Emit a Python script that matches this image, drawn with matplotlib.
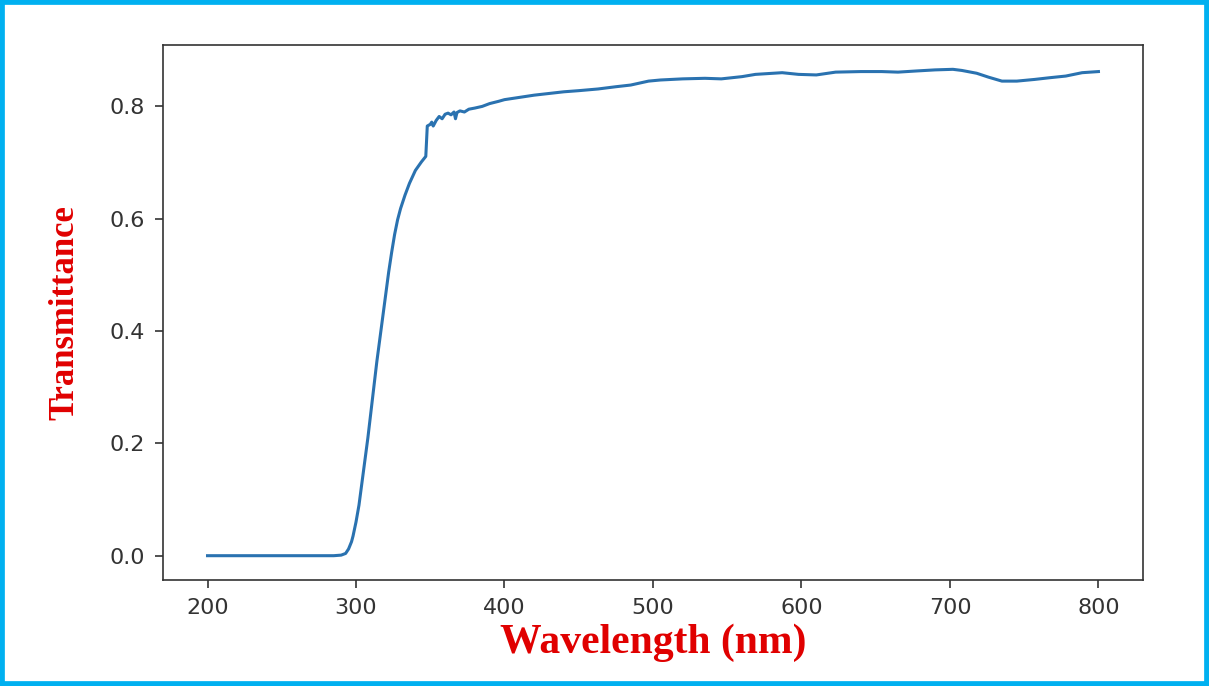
import numpy as np
import matplotlib
matplotlib.use("Agg")
import matplotlib.pyplot as plt
from matplotlib.patches import Rectangle

## DATA ##
wavelength = [
	200, 250, 285, 290, 293, 295, 297, 298, 300, 302, 304, 306, 308, 310, 312,
	314, 316, 318, 320, 322, 324, 326, 328, 330, 333, 336, 340, 344, 347, 348,
	350, 351, 352, 354, 356, 358, 360, 362, 364, 366, 367, 368, 370, 373, 376,
	380, 385, 390, 396, 400, 410, 420, 430, 440, 450, 463, 475, 485, 497, 505,
	520, 535, 546, 560, 569, 587, 598, 610, 623, 640, 654, 665, 677, 690, 702,
	708, 718, 726, 735, 745, 757, 767, 778, 789, 800
]
transmittance = [
	0.0, 0.0, 0.0, 0.001, 0.004, 0.012, 0.025, 0.035, 0.06, 0.09, 0.13, 0.17,
	0.21, 0.255, 0.30, 0.345, 0.385, 0.425, 0.465, 0.505, 0.54, 0.572, 0.598,
	0.618, 0.642, 0.663, 0.686, 0.701, 0.711, 0.765, 0.768, 0.772, 0.765,
	0.775, 0.782, 0.778, 0.786, 0.788, 0.785, 0.790, 0.778, 0.789, 0.792,
	0.790, 0.795, 0.797, 0.800, 0.805, 0.809, 0.812, 0.816, 0.820, 0.823,
	0.826, 0.828, 0.831, 0.835, 0.838, 0.845, 0.847, 0.849, 0.850, 0.849,
	0.853, 0.857, 0.860, 0.857, 0.856, 0.861, 0.862, 0.862, 0.861, 0.863,
	0.865, 0.866, 0.864, 0.859, 0.852, 0.845, 0.845, 0.848, 0.851, 0.854,
	0.860, 0.862
]

X_LABEL = "Wavelength (nm)"
Y_LABEL = "Transmittance"

## STYLE ##
LINE_COLOR = "#2a72b0"
LABEL_COLOR = "#e00000"
BORDER_COLOR = "#00b0f0"
TICK_COLOR = "#333333"

fig = plt.figure(figsize = (12.09, 6.86), dpi = 100)
ax = fig.add_axes([0.1348, 0.1545, 0.8106, 0.7799])

ax.plot(wavelength, transmittance, color = LINE_COLOR, linewidth = 2.2)

ax.set_xticks([200, 300, 400, 500, 600, 700, 800])
ax.set_yticks([0.0, 0.2, 0.4, 0.6, 0.8])
ax.tick_params(
	axis = "both",
	labelsize = 16,
	length = 6,
	width = 1.2,
	colors = TICK_COLOR,
	pad = 7
)
for spine in ax.spines.values():
	spine.set_color(TICK_COLOR)
	spine.set_linewidth(1.2)

ax.set_xlabel(
	X_LABEL,
	fontsize = 30,
	fontweight = "bold",
	family = "Liberation Serif",
	color = LABEL_COLOR,
	labelpad = 4
)
ax.set_ylabel(
	Y_LABEL,
	fontsize = 25,
	fontweight = "bold",
	family = "Liberation Serif",
	color = LABEL_COLOR,
	labelpad = 20
)

# blue frame round the picture
fig.patches.append(Rectangle(
	(0, 0), 1, 1,
	transform = fig.transFigure,
	fill = False,
	edgecolor = BORDER_COLOR,
	linewidth = 7
))

fig.savefig("out.png", dpi = 100)
